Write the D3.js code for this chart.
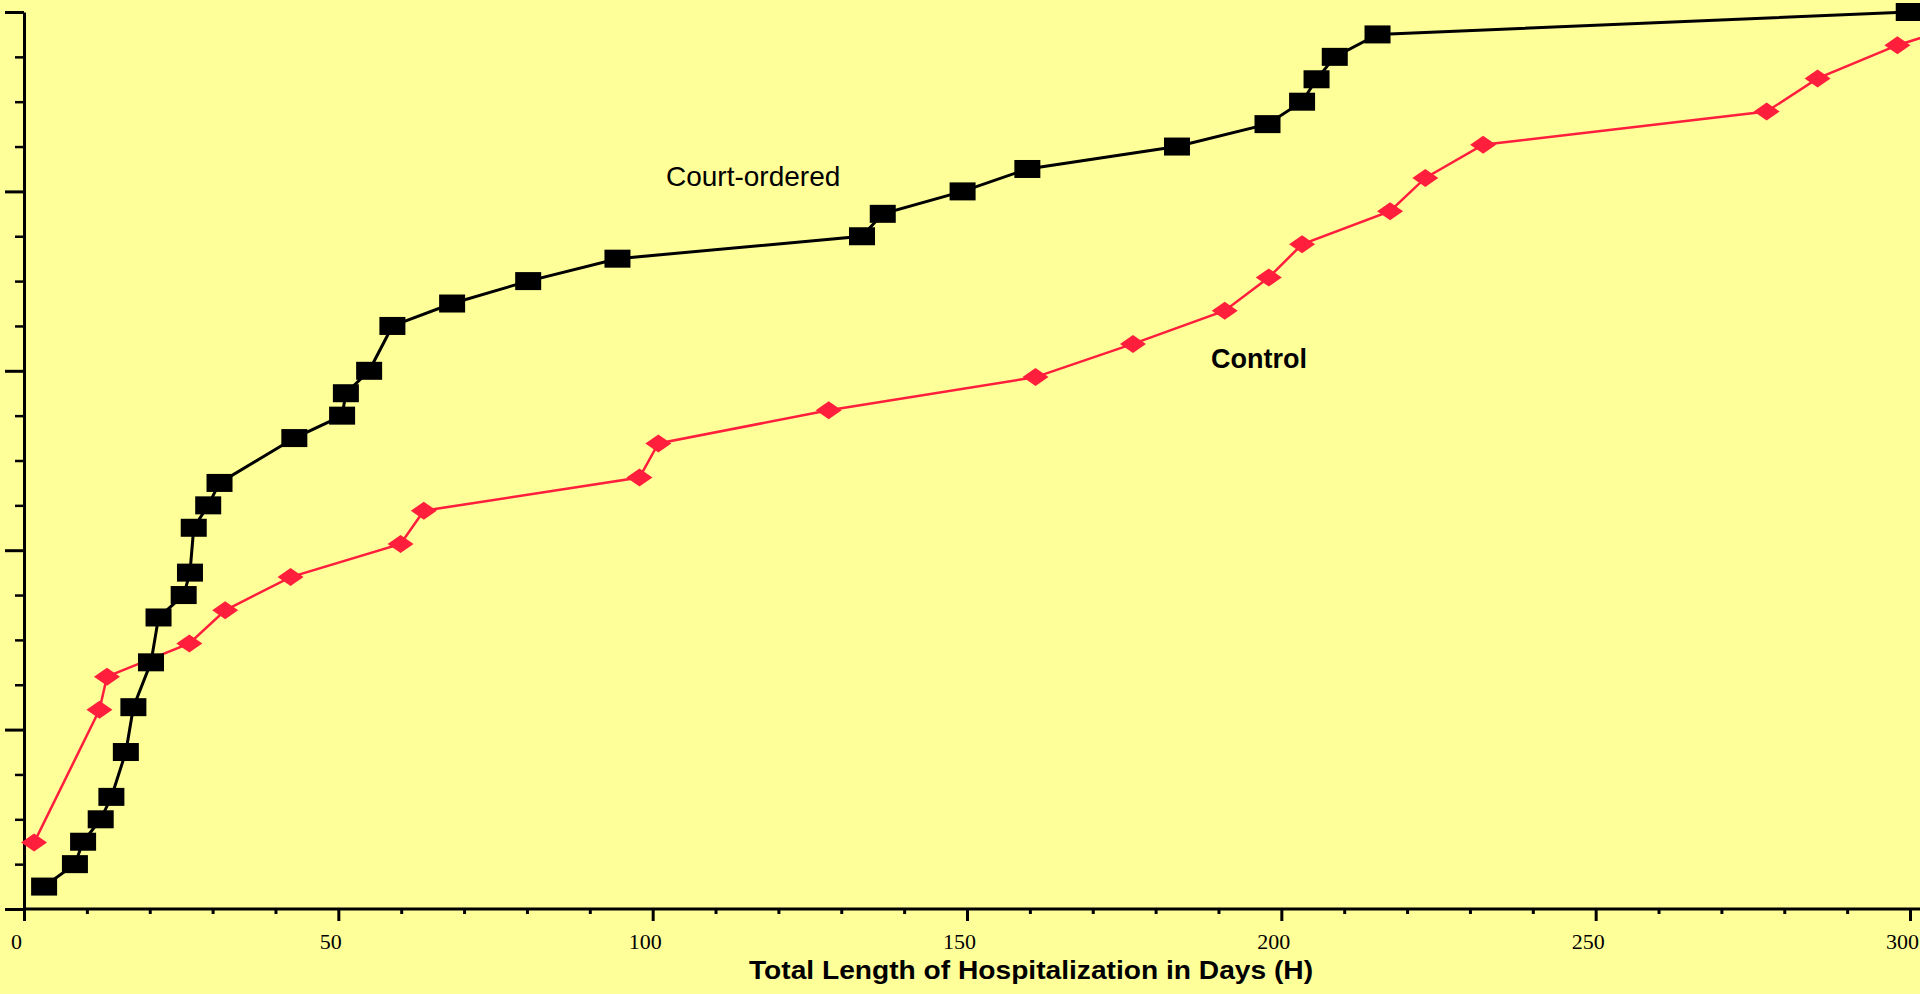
<!DOCTYPE html>
<html>
<head>
<meta charset="utf-8">
<script src="https://cdn.jsdelivr.net/npm/d3@7"></script>
<style>
    html, body { margin: 0; padding: 0; background: #ffff99; overflow: hidden; }
</style>
</head>
<body>
<div id="chart"></div>
<script>
// days of hospitalization vs cumulative proportion
var courtDays = [3.2, 8.1, 9.4, 12.2, 13.9, 16.2, 17.4, 20.2, 21.4, 25.4, 26.4, 27.0, 29.3, 31.1,
                 43.0, 50.6, 51.2, 54.9, 58.6, 68.1, 80.2, 94.4, 133.3, 136.6, 149.3, 159.6,
                 183.4, 197.8, 203.3, 205.6, 208.5, 215.3, 299.8];
var courtProp = [0.025, 0.05, 0.075, 0.1, 0.125, 0.175, 0.225, 0.275, 0.325, 0.35, 0.375, 0.425,
                 0.45, 0.475, 0.525, 0.55, 0.575, 0.6, 0.65, 0.675, 0.7, 0.725, 0.75, 0.775, 0.8,
                 0.825, 0.85, 0.875, 0.9, 0.925, 0.95, 0.975, 1.0];

var controlDays = [1.6, 12.0, 13.2, 26.3, 32.0, 42.4, 59.9, 63.6, 97.9, 100.9, 128.0, 160.9,
                   176.4, 191.0, 198.0, 203.3, 217.3, 222.9, 232.1, 277.2, 285.3, 298.0, 315.0];
var controlProp = [0.074, 0.222, 0.259, 0.296, 0.333, 0.370, 0.407, 0.444, 0.481, 0.519, 0.556,
                   0.593, 0.630, 0.667, 0.704, 0.741, 0.778, 0.815, 0.852, 0.889, 0.926, 0.963, 1.0];

var xMajor = [0, 50, 100, 150, 200, 250, 300];
var xMinor = [10, 20, 30, 40, 60, 70, 80, 90, 110, 120, 130, 140, 160, 170, 180, 190,
              210, 220, 230, 240, 260, 270, 280, 290];
var yMajor = [0, 0.2, 0.4, 0.6, 0.8, 1.0];
var yMinor = [0.05, 0.1, 0.15, 0.25, 0.3, 0.35, 0.45, 0.5, 0.55, 0.65, 0.7, 0.75, 0.85, 0.9, 0.95];

var W = 1920, H = 994;

var svg = d3.select("#chart")
    .append("svg")
        .attr("width", W)
        .attr("height", H)
        .style("display", "block");

svg.append("rect")
    .attr("width", W)
    .attr("height", H)
    .attr("fill", "#ffff99");

var x = d3.scaleLinear()
    .domain([0, 300])
    .range([24, 1910]);

var y = d3.scaleLinear()
    .domain([0, 1])
    .range([909, 12]);

// X axis - major ticks with labels
var xAxisG = svg.append("g")
    .attr("transform", "translate(0,909)")
    .call(d3.axisBottom(x).tickValues(xMajor).tickSize(12).tickSizeOuter(0).tickFormat(d3.format("d")));
xAxisG.select(".domain").remove();
xAxisG.selectAll("line").attr("stroke", "#000").attr("stroke-width", 3);
xAxisG.selectAll("text")
    .attr("y", 40)
    .attr("dy", null)
    .attr("dx", -8)
    .style("font-family", "'Liberation Serif', 'Times New Roman', serif")
    .style("font-size", "22px")
    .attr("fill", "#000");

// minor ticks
var xMinorG = svg.append("g")
    .attr("transform", "translate(0,909)")
    .call(d3.axisBottom(x).tickValues(xMinor).tickSize(5).tickFormat(""));
xMinorG.select(".domain").remove();
xMinorG.selectAll("line").attr("stroke", "#000").attr("stroke-width", 3);

// axis line across the whole width
svg.append("line")
    .attr("x1", x(0))
    .attr("x2", W)
    .attr("y1", y(0))
    .attr("y2", y(0))
    .attr("stroke", "#000")
    .attr("stroke-width", 3);

// Y axis - no labels
var yAxisG = svg.append("g")
    .attr("transform", "translate(24,0)")
    .call(d3.axisLeft(y).tickValues(yMajor).tickSize(19).tickSizeOuter(0).tickFormat(""));
yAxisG.select(".domain").attr("stroke", "#000").attr("stroke-width", 3);
yAxisG.selectAll("line").attr("stroke", "#000").attr("stroke-width", 3);

var yMinorG = svg.append("g")
    .attr("transform", "translate(24,0)")
    .call(d3.axisLeft(y).tickValues(yMinor).tickSize(9).tickFormat(""));
yMinorG.select(".domain").remove();
yMinorG.selectAll("line").attr("stroke", "#000").attr("stroke-width", 2.5);

var court = courtDays.map(function(d, i) { return {x: d, y: courtProp[i]}; });
var control = controlDays.map(function(d, i) { return {x: d, y: controlProp[i]}; });

var line = d3.line()
    .x(function(d) { return x(d.x); })
    .y(function(d) { return y(d.y); });

// Control line + diamonds
svg.append("path")
    .datum(control)
    .attr("d", line)
    .attr("fill", "none")
    .attr("stroke", "#ff1e3c")
    .attr("stroke-width", 2.5);

svg.selectAll("mydiamond")
    .data(control)
    .enter()
    .append("path")
        .attr("d", "M-13,0L0,-9L13,0L0,9Z")
        .attr("transform", function(d) { return "translate(" + x(d.x) + "," + y(d.y) + ")"; })
        .attr("fill", "#ff1e3c");

// Court-ordered line + squares
svg.append("path")
    .datum(court)
    .attr("d", line)
    .attr("fill", "none")
    .attr("stroke", "#000")
    .attr("stroke-width", 3);

svg.selectAll("mysquare")
    .data(court)
    .enter()
    .append("rect")
        .attr("x", function(d) { return x(d.x) - 13; })
        .attr("y", function(d) { return y(d.y) - 9; })
        .attr("width", 26)
        .attr("height", 18)
        .attr("fill", "#000");

// labels
svg.append("text")
    .attr("x", 666)
    .attr("y", 186)
    .style("font-family", "'Liberation Sans', Arial, sans-serif")
    .style("font-size", "28px")
    .text("Court-ordered");

svg.append("text")
    .attr("x", 1211)
    .attr("y", 368)
    .style("font-family", "'Liberation Sans', Arial, sans-serif")
    .style("font-size", "27px")
    .style("font-weight", "bold")
    .text("Control");

svg.append("text")
    .attr("x", 749)
    .attr("y", 979)
    .attr("textLength", 564)
    .attr("lengthAdjust", "spacingAndGlyphs")
    .style("font-family", "'Liberation Sans', Arial, sans-serif")
    .style("font-size", "26px")
    .style("font-weight", "bold")
    .text("Total Length of Hospitalization in Days (H)");
</script>
</body>
</html>
